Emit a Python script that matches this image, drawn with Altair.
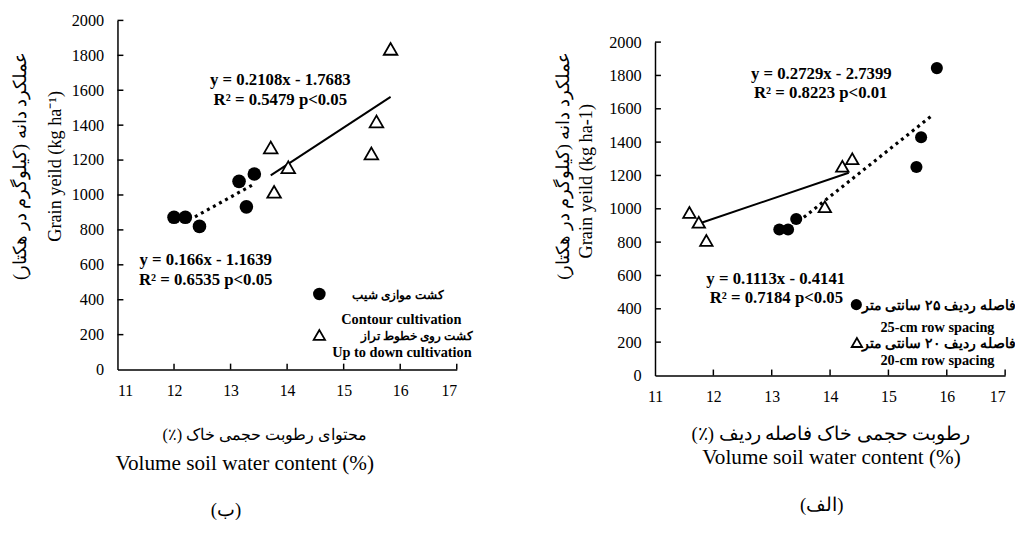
import altair as alt
import pandas as pd

FONT = "Liberation Serif"
RLM = "\u200f"


def rtl(s):
    return RLM + s + RLM


x_ticks = [11, 12, 13, 14, 15, 16, 17]
y_ticks = [0, 200, 400, 600, 800, 1000, 1200, 1400, 1600, 1800, 2000]

# ---------------- Left panel (ب) ----------------
b_contour_x = [12.0, 12.2, 12.45, 13.15, 13.28, 13.42]
b_contour_y = [872, 872, 820, 1078, 932, 1120]
b_updown_x = [13.71, 13.77, 14.02, 15.49, 15.58, 15.83]
b_updown_y = [1272, 1018, 1159, 1238, 1421, 1837]
b_dot_x = [12.37, 13.43]
b_dot_y = [875, 1065]
b_solid_x = [13.71, 15.83]
b_solid_y = [1112, 1562]
b_eq_text = ["y = 0.2108x - 1.7683", "R² = 0.5479 p<0.05",
             "y = 0.166x - 1.1639", "R² = 0.6535 p<0.05"]
b_eq_x = [13.88, 13.88, 12.56, 12.56]
b_eq_y = [1658, 1543, 627, 514]
b_leg_sym_x = [14.57, 14.57]
b_leg_sym_y = [433, 198]
b_leg_fa = ["کشت موازی شیب", "کشت روی خطوط تراز"]
b_leg_fa_x = [15.96, 16.3]
b_leg_fa_y = [429, 194]
b_leg_en = ["Contour cultivation", "Up to down cultivation"]
b_leg_en_x = [16.02, 16.03]
b_leg_en_y = [282, 94]
b_ytitle = ["عملکرد دانه (کیلوگرم در هکتار)", "Grain yeild (kg ha⁻¹)"]
b_xtitle = ["محتوای رطوبت حجمی خاک (٪)", "Volume soil water content (%)"]
b_label = "(ب)"

# ---------------- Right panel (الف) ----------------
a_25_x = [13.13, 13.28, 13.42, 15.48, 15.56, 15.83]
a_25_y = [876, 876, 939, 1251, 1429, 1844]
a_20_x = [11.59, 11.75, 11.88, 13.91, 14.21, 14.38]
a_20_y = [978, 919, 810, 1012, 1255, 1300]
a_solid_x = [11.77, 14.32]
a_solid_y = [913, 1216]
a_dot_x = [13.55, 15.77]
a_dot_y = [949, 1566]
a_eq_text = ["y = 0.2729x - 2.7399", "R² = 0.8223 p<0.01",
             "y = 0.1113x - 0.4141", "R² = 0.7184 p<0.05"]
a_eq_x = [13.85, 13.84, 13.07, 13.08]
a_eq_y = [1808, 1695, 577, 465]
a_leg_sym_x = [14.45, 14.46]
a_leg_sym_y = [425, 198]
a_leg_fa = ["فاصله ردیف ۲۵ سانتی متر", "فاصله ردیف ۲۰ سانتی متر"]
a_leg_fa_x = [15.86, 15.86]
a_leg_fa_y = [415, 188]
a_leg_en = ["25-cm row spacing", "20-cm row spacing"]
a_leg_en_x = [15.84, 15.84]
a_leg_en_y = [283, 89]
a_ytitle = ["عملکرد دانه (کیلوگرم در هکتار)", "Grain yeild (kg ha-1)"]
a_xtitle = ["رطوبت حجمی خاک فاصله ردیف  (٪)", "Volume soil water content (%)"]
a_label = "(الف)"


def free_text(text, x, y, size, angle=0, weight="normal"):
    return alt.Chart(pd.DataFrame({"t": [text]})).mark_text(
        font=FONT, fontSize=size, angle=angle, fontWeight=weight, color="black",
        align="center", baseline="middle").encode(
        x=alt.value(x), y=alt.value(y), text="t:N")


def panel(W, H, circ, tri, solid, dotted, eqs, leg_sym, leg_fa, leg_en,
          ytitle, xtitle, label, lay, csize, tsize, legfa_size, flush17=False):
    xs = alt.Scale(domain=[11, 17], nice=False, zero=False)
    ys = alt.Scale(domain=[0, 2000], nice=False)
    xax_kwargs = dict(
        values=x_ticks, format="d", tickSize=0, labelPadding=13, labelFont=FONT,
        labelFontSize=16, labelColor="black", domainColor="black",
        domainWidth=1.5, grid=False,
        title=rtl(xtitle[0]), titleFont=FONT, titleFontSize=lay["xfa_size"],
        titleFontWeight="normal", titleColor="black", titleX=lay["xfa_x"],
        titleY=lay["xfa_y"], titleAlign="center", titleBaseline="middle",
        titleAngle=0,
    )
    if flush17:
        xax_kwargs["labelAlign"] = {"condition": {"test": "datum.value == 17", "value": "right"},
                                    "value": "center"}
    xax = alt.Axis(**xax_kwargs)
    yax = alt.Axis(
        values=y_ticks, format="d", tickSize=0, labelPadding=14, labelFont=FONT,
        labelFontSize=16.5, labelColor="black", domainColor="black",
        domainWidth=1.5, grid=False,
        title=rtl(ytitle[0]), titleFont=FONT, titleFontSize=lay["yfa_size"],
        titleFontWeight="normal", titleColor="black", titleX=lay["yfa_x"],
        titleY=lay["yfa_y"], titleAlign="center", titleBaseline="middle",
        titleAngle=270,
    )
    X = lambda f: alt.X(f, type="quantitative", scale=xs, axis=xax)
    Y = lambda f: alt.Y(f, type="quantitative", scale=ys, axis=yax)

    layers = []
    # inward ticks
    layers.append(alt.Chart(pd.DataFrame({"x": x_ticks[1:]})).mark_rule(
        color="black", strokeWidth=1.5).encode(
        x=X("x"), y=alt.value(H), y2=alt.value(H - 6)))
    layers.append(alt.Chart(pd.DataFrame({"y": y_ticks[1:]})).mark_rule(
        color="black", strokeWidth=1.5).encode(
        y=Y("y"), x=alt.value(0), x2=alt.value(6)))
    # trend lines
    layers.append(alt.Chart(pd.DataFrame({"x": solid[0], "y": solid[1]})).mark_line(
        color="black", strokeWidth=2).encode(x=X("x"), y=Y("y")))
    layers.append(alt.Chart(pd.DataFrame({"x": dotted[0], "y": dotted[1]})).mark_line(
        color="black", strokeWidth=3.2, strokeDash=[3, 4]).encode(x=X("x"), y=Y("y")))
    # points
    layers.append(alt.Chart(pd.DataFrame({"x": circ[0], "y": circ[1]})).mark_circle(
        color="black", opacity=1, size=csize).encode(x=X("x"), y=Y("y")))
    layers.append(alt.Chart(pd.DataFrame({"x": tri[0], "y": tri[1]})).mark_point(
        shape="triangle-up", filled=True, fill="white", stroke="black",
        strokeWidth=1.8, opacity=1, size=tsize).encode(x=X("x"), y=Y("y")))
    # equations
    layers.append(alt.Chart(pd.DataFrame({"x": eqs[1], "y": eqs[2], "t": eqs[0]})).mark_text(
        font=FONT, fontSize=17, fontWeight="bold", color="black").encode(
        x=X("x"), y=Y("y"), text="t:N"))
    # legend symbols
    layers.append(alt.Chart(pd.DataFrame({"x": [leg_sym[0][0]], "y": [leg_sym[1][0]]})).mark_circle(
        color="black", opacity=1, size=csize * 0.85).encode(x=X("x"), y=Y("y")))
    layers.append(alt.Chart(pd.DataFrame({"x": [leg_sym[0][1]], "y": [leg_sym[1][1]]})).mark_point(
        shape="triangle-up", filled=True, fill="white", stroke="black",
        strokeWidth=1.8, opacity=1, size=tsize * 0.7).encode(x=X("x"), y=Y("y")))
    # legend texts
    layers.append(alt.Chart(pd.DataFrame({"x": leg_fa[1], "y": leg_fa[2],
                                          "t": [rtl(s) for s in leg_fa[0]]})).mark_text(
        font=FONT, fontSize=legfa_size, fontWeight="bold", color="black").encode(
        x=X("x"), y=Y("y"), text="t:N"))
    layers.append(alt.Chart(pd.DataFrame({"x": leg_en[1], "y": leg_en[2], "t": leg_en[0]})).mark_text(
        font=FONT, fontSize=14.5, fontWeight="bold", color="black").encode(
        x=X("x"), y=Y("y"), text="t:N"))
    # English axis titles and panel label
    layers.append(free_text(ytitle[1], lay["yen_x"], lay["yen_y"], 18.5, angle=270))
    layers.append(free_text(xtitle[1], lay["xen_x"], H + lay["xen_y"], 21.5))
    layers.append(free_text(rtl(label), lay["lab_x"], H + lay["lab_y"], 19))

    return alt.layer(*layers).properties(width=W, height=H)


left = panel(344, 354,
             (b_contour_x, b_contour_y), (b_updown_x, b_updown_y),
             (b_solid_x, b_solid_y), (b_dot_x, b_dot_y),
             (b_eq_text, b_eq_x, b_eq_y), (b_leg_sym_x, b_leg_sym_y),
             (b_leg_fa, b_leg_fa_x, b_leg_fa_y), (b_leg_en, b_leg_en_x, b_leg_en_y),
             b_ytitle, b_xtitle, b_label,
             lay=dict(yfa_x=-99.5, yfa_y=147, yfa_size=18.5, yen_x=-63.5, yen_y=148,
                      xfa_x=149, xfa_y=66, xfa_size=16.5, xen_x=129, xen_y=96,
                      lab_x=110, lab_y=142),
             csize=190, tsize=190, legfa_size=12.5)

right_main = panel(355, 338,
                   (a_25_x, a_25_y), (a_20_x, a_20_y),
                   (a_solid_x, a_solid_y), (a_dot_x, a_dot_y),
                   (a_eq_text, a_eq_x, a_eq_y), (a_leg_sym_x, a_leg_sym_y),
                   (a_leg_fa, a_leg_fa_x, a_leg_fa_y), (a_leg_en, a_leg_en_x, a_leg_en_y),
                   a_ytitle, a_xtitle, a_label,
                   lay=dict(yfa_x=-93, yfa_y=125, yfa_size=18, yen_x=-70, yen_y=141,
                            xfa_x=178, xfa_y=59, xfa_size=19, xen_x=179, xen_y=84,
                            lab_x=169, lab_y=131),
                   csize=150, tsize=160, legfa_size=14, flush17=True)

spacer = alt.Chart(pd.DataFrame({"v": [0]})).mark_rule(opacity=0).encode(
    x=alt.value(0), x2=alt.value(1), y=alt.value(0), y2=alt.value(1)
).properties(width=355, height=14)

right = alt.vconcat(spacer, right_main, spacing=0)

chart = alt.hconcat(left, right, spacing=78).properties(
    padding={"left": 2, "top": 1, "right": 0, "bottom": 0},
    background="white",
).configure_view(stroke="transparent", strokeWidth=0)

chart.save("out.html", embed_options={"renderer": "svg", "actions": False})
